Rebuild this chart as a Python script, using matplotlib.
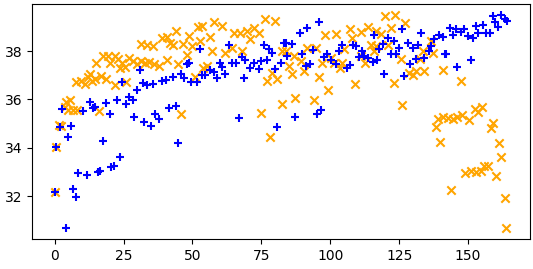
import matplotlib
matplotlib.use("Agg")
import matplotlib.pyplot as plt

# orange 'x' series
orange_x = [0, 0.6, 1.5, 2.4, 3.7, 4.3, 4.9, 5.5, 6.5, 8.3, 16.1,
            7.9, 9.7, 10.9, 12.1, 13.4, 12.8, 14.6, 17, 18.8, 21.8,
            14.9, 17.6, 20, 19.4, 21.8, 23, 23.7,
            31.2, 33.4, 35.8, 38.9, 40.7, 41.9, 43.1, 44.1, 46.7, 48.9, 49.8, 52.2, 52.6,
            24.3, 25.5, 27.1, 28.5, 30, 31.2, 32.8, 34.4, 36.1, 38, 40.9, 44.9, 48,
            54, 51, 25.9, 45.9,
            57.9, 60.7, 56.2, 65, 67.4, 69.8, 72.2, 74.1, 71, 76.3, 80.1,
            57.1, 61.9, 64.4, 68, 53.4, 55.3, 77.1, 80.8, 78.9, 75, 78.1, 82.6, 82.6,
            98.1, 102, 107.2, 111.1, 107.8, 91.7, 94.7, 83.8, 86.8, 89.3, 85, 90.5,
            86.2, 96.9, 100.2, 101.4, 104.4, 103.6, 105, 111.1, 95.9, 99.2, 108.9,
            87.1, 94.1,
            120, 123.6, 127.2, 113.6, 116.6, 122, 118.4, 114.8, 116.6, 120.8, 116,
            112.6, 125.7, 132.4, 133.6, 136.6, 137.2, 128.7, 131.1, 134.2, 130,
            140.9, 123.2, 126, 139, 138.4, 140,
            147.3, 140.9, 142.7, 144.5, 146.1, 147.8, 150.2, 152.4, 153.6, 155.1,
            159.1, 158.2, 161.1, 162.1, 149, 151.2, 153, 154.6, 155.8, 157.3, 160,
            143.9, 163.3, 163.9]
orange_y = [32.18, 34.05, 34.95, 34.9, 35.7, 35.89, 35.56, 35.98, 35.56, 35.56, 35.51,
            36.71, 36.78, 36.65, 36.91, 36.78, 37.05, 36.85, 36.98, 36.85, 36.58,
            37.52, 37.8, 37.52, 37.8, 37.8, 37.66, 37.32,
            38.3, 38.27, 38.2, 38.54, 38.57, 38.34, 38.27, 38.82, 38.3, 38.61, 38.2, 38.98, 38.41,
            37.52, 37.35, 37.73, 37.59, 37.46, 37.59, 37.52, 37.55, 37.48, 37.39, 37.62, 37.48, 37.84,
            37.32, 36.94, 36.71, 35.38,
            39.2, 39.02, 38.57, 38.75, 38.75, 38.82, 38.95, 38.75, 38.48, 39.33, 39.25,
            38.0, 37.93, 38.14, 38.0, 39.02, 37.39, 36.78, 36.85, 37.11, 35.44, 34.44, 35.82, 38.0,
            38.68, 38.71, 38.89, 38.78, 38.54, 38.14, 38.14, 38.0, 37.8, 37.59, 37.39, 37.18,
            37.07, 37.52, 37.73, 37.52, 37.52, 37.32, 38.07, 37.8, 36.94, 36.4, 36.64,
            36.07, 35.99,
            39.43, 39.47, 39.16, 38.98, 38.84, 38.95, 38.71, 38.27, 38.2, 38.27, 38.0,
            37.52, 37.66, 37.66, 38.0, 38.41, 37.93, 37.11, 37.18, 37.16, 37.02,
            37.21, 36.67, 35.78, 35.21, 34.87, 34.26,
            36.78, 35.28, 35.25, 35.21, 35.28, 35.35, 35.17, 35.62, 35.48, 35.69,
            35.03, 34.84, 34.19, 33.62, 32.97, 33.03, 32.99, 33.03, 33.24, 33.27, 32.83,
            32.26, 31.95, 30.68]

# blue '+' series
blue_x = [2.8, 12.75, 10.3, 14, 14.8, 18.8, 20, 22.8, 24.6, 1.8, 5.8, 4.7, 0.4,
          17.6, 23.9, 21.5, 20.4, 16.4, 15.9, 11.9, 8.6, 6.8, 7.9, 0, 4,
          31, 29.8, 25.9, 27.1, 28.3, 31.9, 33.6, 35.8, 38.9, 40.3, 42.9, 45.9, 47.1,
          49.5, 51.6, 53.4, 48, 48.9, 52.8, 28.8, 32.5, 35, 36.4, 37.9, 41.6, 44.1, 44.7,
          63.1, 54.6, 56.5, 57.7, 58.9, 60.1, 60.7, 61.9, 64.4, 65.9, 68, 69.2, 70.8,
          72.2, 74.1, 74.9, 76.9, 75.9, 77.7, 78.9, 80.1, 82, 83.2, 68.6, 67, 80.8,
          95.9, 91.7, 88.9, 83.8, 86, 89.9, 93.9, 84.4, 91.1, 92.6, 97.7, 99, 100.2,
          102, 103.2, 104.1, 106, 107.2, 108.1, 109.3, 110.5, 111.7, 87.1, 95.1, 96.8,
          126, 133, 116, 120.8, 123.2, 119, 117.8, 112.3, 113.6, 115.4, 117, 122,
          123.9, 125.1, 128.1, 129.9, 131.8, 134.2, 131.1, 129.1, 136, 136.6, 137.8,
          139.6, 141.5, 119.6, 126.9,
          159.1, 162.1, 163.3, 164.2, 159.7, 160.9, 157.9, 155.4, 153, 153.6, 156.6,
          148.5, 147.3, 145.7, 143.3, 144.5, 140.9, 150, 151.8, 142.1, 146.1, 151.2]
blue_y = [35.62, 35.89, 35.51, 35.65, 35.71, 35.85, 35.39, 35.99, 36.71, 34.87, 34.91, 34.46, 34.05,
          34.3, 33.64, 33.24, 33.2, 33.05, 33.0, 32.87, 32.95, 32.31, 31.96, 32.18, 30.71,
          37.21, 36.4, 35.82, 36.09, 35.99, 36.67, 36.58, 36.64, 36.75, 36.8, 36.94, 37.07, 36.88,
          36.71, 36.71, 37.02, 37.46, 37.52, 38.07, 35.28, 35.07, 34.91, 35.38, 35.2, 35.66, 35.73, 34.19,
          38.27, 37.02, 37.22, 37.14, 36.88, 37.52, 37.36, 37.07, 37.52, 37.52, 37.76, 37.62, 37.32,
          37.52, 37.25, 37.59, 37.62, 38.23, 38.1, 37.92, 37.25, 37.52, 38.34, 36.87, 35.24, 34.87,
          39.2, 38.95, 38.75, 38.34, 38.3, 37.86, 38.03, 37.8, 37.39, 37.48, 37.76, 37.86, 37.63,
          37.46, 38.0, 38.23, 37.28, 37.42, 38.27, 38.2, 37.76, 38.0, 35.28, 35.42, 35.58,
          38.93, 38.75, 38.68, 38.54, 38.41, 38.3, 38.07, 37.8, 37.7, 37.56, 37.62, 37.86,
          37.89, 38.14, 38.34, 38.14, 38.27, 37.73, 37.66, 37.48, 38.0, 38.2, 38.48,
          38.68, 37.86, 37.05, 36.98,
          39.43, 39.5, 39.33, 39.25, 39.2, 38.98, 38.75, 39.06, 39.02, 38.75, 38.75,
          38.89, 38.79, 38.89, 38.95, 38.68, 38.57, 38.61, 38.52, 37.86, 37.35, 37.62]

fig = plt.figure(figsize=(5.33, 2.69), dpi=100)
ax = fig.add_axes([0.060, 0.1115, 0.934, 0.8735])

ax.scatter(orange_x, orange_y, marker='x', color='orange')
ax.scatter(blue_x, blue_y, marker='+', color='blue')

ax.set_xticks([0, 25, 50, 75, 100, 125, 150])
ax.set_yticks([32, 34, 36, 38])

fig.savefig('out.png', dpi=100)
